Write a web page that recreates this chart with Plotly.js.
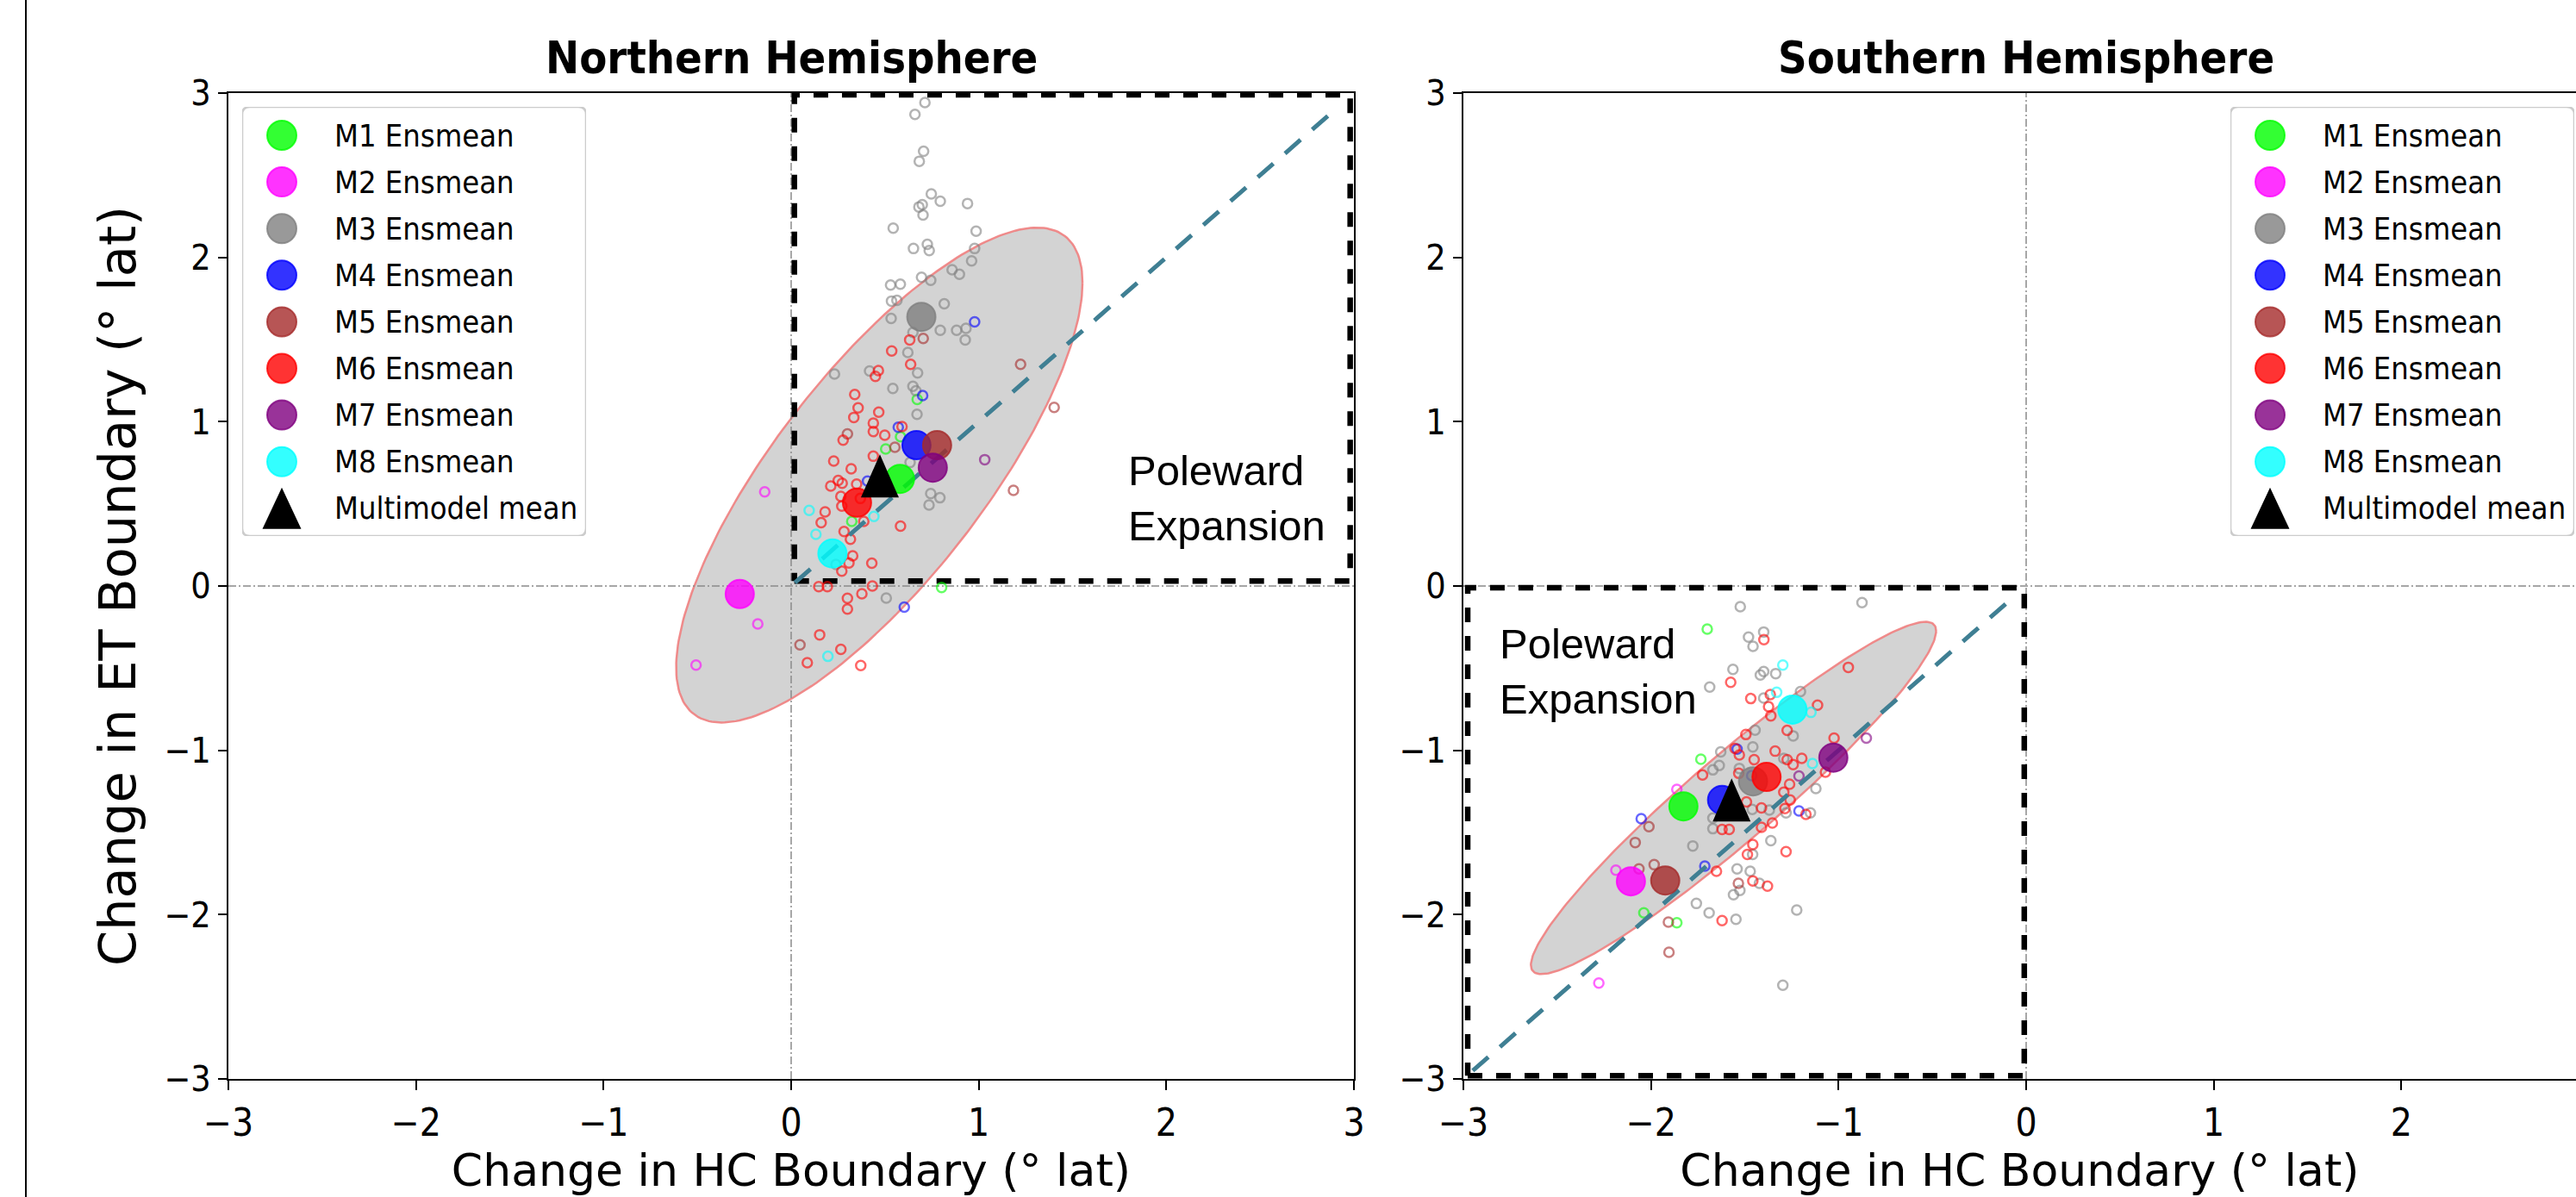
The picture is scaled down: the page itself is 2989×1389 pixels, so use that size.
<!DOCTYPE html>
<html><head><meta charset="utf-8">
<script src="https://cdn.plot.ly/plotly-3.0.1.min.js"></script>
<style>html,body{margin:0;padding:0;background:#fff;}#chart{width:2989px;height:1389px;}</style>
</head><body><div id="chart"></div>
<script>
// ================= DATA =================
const models = ['M1','M2','M3','M4','M5','M6','M7','M8'];
const modelColors = ['#00ff00','#ff00ff','#808080','#0000ff','#a52a2a','#ff0000','#800080','#00ffff'];
const legendLabels = ['M1 Ensmean','M2 Ensmean','M3 Ensmean','M4 Ensmean','M5 Ensmean','M6 Ensmean','M7 Ensmean','M8 Ensmean','Multimodel mean'];
const tickValues = [-3,-2,-1,0,1,2,3];
const tickLabels = ['\u22123','\u22122','\u22121','0','1','2','3'];
const panelTitles = ['Northern Hemisphere','Southern Hemisphere'];
const xTitle = 'Change in HC Boundary (\u00b0 lat)';
const yTitle = 'Change in ET Boundary (\u00b0 lat)';
const quadLabel = 'Poleward<br>Expansion';

// ensemble means (HC change, ET change)
const nhMeanX = [0.580,-0.274,0.694,0.668,0.778,0.351,0.755,0.220];
const nhMeanY = [0.652,-0.049,1.638,0.857,0.857,0.507,0.720,0.198];
const shMeanX = [-1.827,-2.107,-1.456,-1.621,-1.924,-1.384,-1.028,-1.246];
const shMeanY = [-1.341,-1.797,-1.189,-1.302,-1.792,-1.162,-1.045,-0.752];
const nhMultiMean = [0.473,0.670];
const shMultiMean = [-1.570,-1.302];

// ensemble members, Northern Hemisphere
const nhM1x = [0.672,0.583,0.504,0.802,0.323];
const nhM1y = [1.136,0.909,0.834,-0.009,0.393];
const nhM2x = [-0.141,-0.178,-0.507];
const nhM2y = [0.573,-0.231,-0.481];
const nhM3x = [0.713,0.660,0.706,0.683,0.747,0.795,0.681,0.699,0.703,0.940,0.544,0.986,0.652,0.726,0.736,0.978,0.962,0.858,0.897,0.695,0.744,0.530,0.582,0.535,0.564,0.816,0.533,0.795,0.882,0.932,0.928,0.649,0.622,0.231,0.418,0.674,0.542,0.649,0.665,0.671,0.634,0.744,0.793,0.735,0.507,0.239];
const nhM3y = [2.942,2.870,2.646,2.585,2.386,2.342,2.307,2.321,2.258,2.328,2.178,2.160,2.054,2.080,2.042,2.054,1.979,1.925,1.897,1.879,1.861,1.832,1.837,1.734,1.739,1.718,1.629,1.556,1.556,1.568,1.498,1.543,1.421,1.290,1.309,1.297,1.202,1.215,1.188,1.045,0.752,0.563,0.537,0.493,-0.073,0.131];
const nhM4x = [0.978,0.701,0.571,0.603,0.407];
const nhM4y = [1.608,1.159,0.966,-0.128,0.638];
const nhM5x = [0.704,1.223,1.402,0.300,0.553,1.185,0.047];
const nhM5y = [1.507,1.349,1.087,0.926,0.844,0.582,-0.358];
const nhM6x = [0.632,0.536,0.637,0.465,0.449,0.339,0.357,0.467,0.334,0.438,0.438,0.499,0.277,0.591,0.438,0.227,0.320,0.211,0.251,0.272,0.349,0.265,0.270,0.181,0.160,0.282,0.316,0.387,0.583,0.328,0.308,0.270,0.430,0.147,0.193,0.433,0.377,0.300,0.300,0.152,0.265,0.086,0.371,0.369];
const nhM6y = [1.498,1.430,1.349,1.311,1.276,1.166,1.084,1.058,1.026,0.991,0.940,0.918,0.888,0.970,0.790,0.760,0.713,0.608,0.643,0.625,0.620,0.545,0.486,0.451,0.385,0.332,0.285,0.393,0.364,0.184,0.140,0.091,0.139,-0.004,-0.004,0.000,-0.047,-0.075,-0.140,-0.297,-0.385,-0.467,-0.484,0.533];
const nhM7x = [1.032];
const nhM7y = [0.769];
const nhM8x = [0.096,0.132,0.441,0.196];
const nhM8y = [0.460,0.315,0.423,-0.428];

// ensemble members, Southern Hemisphere
const shM1x = [-1.700,-1.734,-2.038,-1.862];
const shM1y = [-0.262,-1.054,-1.989,-2.049];
const shM2x = [-1.862,-2.187,-2.278];
const shM2y = [-1.238,-1.730,-2.416];
const shM3x = [-1.524,-0.875,-1.480,-1.399,-1.456,-1.563,-1.687,-1.417,-1.399,-1.335,-1.203,-1.399,-1.445,-1.242,-1.457,-1.628,-1.636,-1.670,-1.292,-1.121,-1.150,-1.280,-1.369,-1.460,-1.670,-1.670,-1.361,-1.777,-1.458,-1.541,-1.471,-1.422,-1.526,-1.560,-1.758,-1.690,-1.547,-1.223,-1.297,-1.529];
const shM3y = [-0.126,-0.101,-0.311,-0.280,-0.367,-0.507,-0.615,-0.542,-0.521,-0.533,-0.643,-0.682,-0.877,-0.912,-0.979,-1.010,-1.092,-1.119,-1.049,-1.232,-1.381,-1.381,-1.363,-1.360,-1.412,-1.477,-1.550,-1.582,-1.634,-1.722,-1.736,-1.809,-1.853,-1.879,-1.932,-1.989,-2.028,-1.972,-2.430,-1.110];
const shM4x = [-1.541,-2.052,-1.463,-1.211,-1.713];
const shM4y = [-0.993,-1.416,-1.154,-1.369,-1.704];
const shM5x = [-2.011,-2.084,-2.064,-1.983,-1.534,-1.907,-1.904];
const shM5y = [-1.465,-1.561,-1.722,-1.696,-1.809,-2.045,-2.229];
const shM6x = [-1.398,-0.948,-1.575,-1.468,-1.373,-1.361,-1.112,-1.364,-1.274,-1.494,-1.024,-1.338,-1.552,-1.529,-1.450,-1.274,-1.242,-1.196,-1.725,-1.532,-1.070,-1.261,-1.292,-1.258,-1.491,-1.411,-1.286,-1.174,-1.353,-1.411,-1.621,-1.583,-1.457,-1.486,-1.280,-1.651,-1.457,-1.379,-1.621];
const shM6y = [-0.327,-0.495,-0.586,-0.685,-0.734,-0.790,-0.725,-0.661,-0.879,-0.904,-0.926,-1.005,-0.988,-1.028,-1.057,-1.057,-1.087,-1.049,-1.150,-1.140,-1.133,-1.206,-1.255,-1.302,-1.314,-1.351,-1.355,-1.390,-1.442,-1.468,-1.482,-1.482,-1.573,-1.634,-1.617,-1.736,-1.795,-1.827,-2.036];
const shM7x = [-0.852,-1.211];
const shM7y = [-0.926,-1.157];
const shM8x = [-1.297,-1.330,-1.147,-1.139];
const shM8y = [-0.481,-0.647,-0.769,-1.080];

// spread ellipses (centre, std-devs, correlation)
const nhEllipse = {cx:0.470, cy:0.675, sx:1.083, sy:1.506, r:0.777};
const shEllipse = {cx:-1.560, cy:-1.290, sx:1.080, sy:1.072, r:0.948};

// poleward-expansion quadrants and 1:1 reference lines
const nhQuad = {x0:0.017, x1:2.98, y0:0.03, y1:2.99};
const shQuad = {x0:-2.977, x1:-0.01, y0:-2.98, y1:-0.01};
const nhDiag = [0.02, 2.90];
const shDiag = [-2.95, -0.08];

// ================= LAYOUT GEOMETRY (px) =================
const FIG_W = 2989, FIG_H = 1389;
const PLOT_TOP = 108, PLOT_BOT = 1252;
const NH_L = 265, NH_R = 1571, SH_L = 1698;
const PXU_X = (NH_R - NH_L) / 6;
const PXU_Y = (PLOT_BOT - PLOT_TOP) / 6;
const SH_XMAX = -3 + (FIG_W - SH_L) / PXU_X;
const TRI_HW = 22, TRI_HH = 25;   // half width / height of mean triangle in px
const LEG_ROW0 = 157, LEG_DY = 54.1;
const LEG_L = {x0:281, x1:680, mark:327, text:386};
const LEG_R = {x0:2588, x1:2987, mark:2634, text:2693};
const LEG_Y0 = 124, LEG_Y1 = 622;

const FONT_C = 'DejaVu Sans Condensed, DejaVu Sans, sans-serif';
const FONT_R = 'DejaVu Sans, sans-serif';

function rgba(hex, a){
  const n = parseInt(hex.slice(1),16);
  return 'rgba(' + ((n>>16)&255) + ',' + ((n>>8)&255) + ',' + (n&255) + ',' + a + ')';
}
function ellipsePts(e){
  const xs=[], ys=[], q=Math.sqrt(1-e.r*e.r);
  for(let k=0;k<=240;k++){
    const t = 2*Math.PI*k/240;
    xs.push(e.cx + e.sx*Math.cos(t));
    ys.push(e.cy + e.sy*(e.r*Math.cos(t) + q*Math.sin(t)));
  }
  return {x:xs, y:ys};
}
function triPts(cx, cy, hw, hh){
  return {x:[cx-hw, cx+hw, cx, cx-hw], y:[cy-hh, cy-hh, cy+hh, cy-hh]};
}

const traces = [];
function addPanel(xa, ya, xmax, ell, quad, diag, mx, my, meanX, meanY, mm){
  const e = ellipsePts(ell);
  traces.push({type:'scatter', mode:'lines', x:e.x, y:e.y, xaxis:xa, yaxis:ya, fill:'toself',
    fillcolor:'#d3d3d3', line:{color:'rgba(240,128,128,0.9)', width:2.5}, hoverinfo:'skip'});
  const zl = {color:'#8a8a8a', width:1.5, dash:'9px,3px,2px,3px'};
  traces.push({type:'scatter', mode:'lines', x:[0,0], y:[-3,3], xaxis:xa, yaxis:ya, line:zl, hoverinfo:'skip'});
  traces.push({type:'scatter', mode:'lines', x:[-3,xmax], y:[0,0], xaxis:xa, yaxis:ya, line:zl, hoverinfo:'skip'});
  traces.push({type:'scatter', mode:'lines', x:[quad.x0,quad.x1,quad.x1,quad.x0,quad.x0],
    y:[quad.y0,quad.y0,quad.y1,quad.y1,quad.y0], xaxis:xa, yaxis:ya,
    line:{color:'#000', width:6.5, dash:'17px,16px'}, hoverinfo:'skip'});
  models.forEach((m,i)=>{
    traces.push({type:'scatter', mode:'markers', name:m+' members', x:mx[i], y:my[i], xaxis:xa, yaxis:ya,
      marker:{symbol:'circle-open', size:11, color:modelColors[i], opacity:0.6, line:{width:2.5}}});
  });
  traces.push({type:'scatter', mode:'lines', x:diag, y:diag, xaxis:xa, yaxis:ya,
    line:{color:'#3f7f93', width:5, dash:'24px,18px'}, hoverinfo:'skip'});
  models.forEach((m,i)=>{
    traces.push({type:'scatter', mode:'markers', name:legendLabels[i], x:[meanX[i]], y:[meanY[i]], xaxis:xa, yaxis:ya,
      marker:{symbol:'circle', size:33, color:rgba(modelColors[i],0.8), line:{color:rgba(modelColors[i],0.8), width:2}}});
  });
  const t = triPts(mm[0], mm[1], TRI_HW/PXU_X, TRI_HH/PXU_Y);
  traces.push({type:'scatter', mode:'lines', name:legendLabels[8], x:t.x, y:t.y, xaxis:xa, yaxis:ya,
    fill:'toself', fillcolor:'#000', line:{color:'#000', width:0}});
}

addPanel('x','y',3,nhEllipse,nhQuad,nhDiag,
  [nhM1x,nhM2x,nhM3x,nhM4x,nhM5x,nhM6x,nhM7x,nhM8x],[nhM1y,nhM2y,nhM3y,nhM4y,nhM5y,nhM6y,nhM7y,nhM8y],
  nhMeanX,nhMeanY,nhMultiMean);
addPanel('x2','y2',SH_XMAX,shEllipse,shQuad,shDiag,
  [shM1x,shM2x,shM3x,shM4x,shM5x,shM6x,shM7x,shM8x],[shM1y,shM2y,shM3y,shM4y,shM5y,shM6y,shM7y,shM8y],
  shMeanX,shMeanY,shMultiMean);

// custom legends (axes measured in px)
const annotations = [];
const shapes = [];
function roundRectPath(x0,y0,x1,y1,r){
  return 'M'+(x0+r)+','+y0+' L'+(x1-r)+','+y0+' Q'+x1+','+y0+' '+x1+','+(y0+r)+
    ' L'+x1+','+(y1-r)+' Q'+x1+','+y1+' '+(x1-r)+','+y1+' L'+(x0+r)+','+y1+
    ' Q'+x0+','+y1+' '+x0+','+(y1-r)+' L'+x0+','+(y0+r)+' Q'+x0+','+y0+' '+(x0+r)+','+y0+' Z';
}
function addLegend(xa, ya, L){
  shapes.push({type:'path', xref:xa, yref:ya, path:roundRectPath(L.x0,LEG_Y0,L.x1,LEG_Y1,9),
    fillcolor:'rgba(255,255,255,0.85)', line:{color:'#cccccc', width:2.5}, layer:'below'});
  models.forEach((m,i)=>{
    const yy = LEG_ROW0 + i*LEG_DY;
    traces.push({type:'scatter', mode:'markers', x:[L.mark], y:[yy], xaxis:xa, yaxis:ya, hoverinfo:'skip',
      marker:{symbol:'circle', size:34, color:rgba(modelColors[i],0.8), line:{color:rgba(modelColors[i],0.8), width:2}}});
    annotations.push({xref:xa, yref:ya, x:L.text, y:yy, text:legendLabels[i], showarrow:false,
      xanchor:'left', yanchor:'middle', font:{family:FONT_C, size:36, color:'#000'}});
  });
  const yy = LEG_ROW0 + 8*LEG_DY;
  const t = triPts(L.mark, yy, 22.5, -24);
  traces.push({type:'scatter', mode:'lines', x:t.x, y:t.y, xaxis:xa, yaxis:ya, fill:'toself',
    fillcolor:'#000', line:{color:'#000', width:0}, hoverinfo:'skip'});
  annotations.push({xref:xa, yref:ya, x:L.text, y:yy, text:legendLabels[8], showarrow:false,
    xanchor:'left', yanchor:'middle', font:{family:FONT_C, size:36, color:'#000'}});
}
addLegend('x3','y3',LEG_L);
addLegend('x4','y4',LEG_R);

// panel titles
annotations.push({xref:'x domain', yref:'paper', x:0.5, y:1-67/FIG_H, text:'<b>'+panelTitles[0]+'</b>', showarrow:false,
  xanchor:'center', yanchor:'middle', font:{family:FONT_C, size:52, color:'#000'}});
annotations.push({xref:'paper', yref:'paper', x:(SH_L + 3*PXU_X)/FIG_W, y:1-67/FIG_H, text:'<b>'+panelTitles[1]+'</b>', showarrow:false,
  xanchor:'center', yanchor:'middle', font:{family:FONT_C, size:52, color:'#000'}});
// quadrant labels
annotations.push({xref:'x', yref:'y', x:1.787, y:0.535, text:quadLabel, showarrow:false, align:'left',
  xanchor:'left', yanchor:'middle', font:{family:'Liberation Sans, Arial, sans-serif', size:49, color:'#000'}});
annotations.push({xref:'x2', yref:'y2', x:-2.817, y:-0.517, text:quadLabel, showarrow:false, align:'left',
  xanchor:'left', yanchor:'middle', font:{family:'Liberation Sans, Arial, sans-serif', size:49, color:'#000'}});

// far-left border line
shapes.push({type:'line', xref:'paper', yref:'paper', x0:30/FIG_W, x1:30/FIG_W, y0:0, y1:1, line:{color:'#000', width:2}});

const yDom = [1-PLOT_BOT/FIG_H, 1-PLOT_TOP/FIG_H];
const xTickFont = {family:FONT_C, size:44, color:'#000'};
const yTickFont = {family:FONT_C, size:41, color:'#000'};
function xAxis(dom, rng, anchor, vals, txt){
  return {domain:dom, range:rng, anchor:anchor, tickmode:'array', tickvals:vals, ticktext:txt,
    showgrid:false, zeroline:false, showline:true, linecolor:'#000', linewidth:2, mirror:true,
    ticks:'outside', ticklen:11, tickwidth:2, tickcolor:'#000', tickfont:xTickFont, automargin:false,
    title:{text:xTitle, font:{family:FONT_R, size:52, color:'#000'}, standoff:10}, fixedrange:true};
}
const layout = {
  width:FIG_W, height:FIG_H, margin:{l:0,r:0,t:0,b:0}, paper_bgcolor:'#ffffff', plot_bgcolor:'rgba(0,0,0,0)',
  showlegend:false, hovermode:false,
  xaxis: xAxis([NH_L/FIG_W, NH_R/FIG_W], [-3,3], 'y', tickValues, tickLabels),
  yaxis: {domain:yDom, range:[-3,3], anchor:'x', tickmode:'array', tickvals:tickValues, ticktext:tickLabels,
    showgrid:false, zeroline:false, showline:true, linecolor:'#000', linewidth:2, mirror:true,
    ticks:'outside', ticklen:10, tickwidth:2, tickcolor:'#000', tickfont:yTickFont, automargin:false,
    title:{text:yTitle, font:{family:FONT_R, size:59, color:'#000'}, standoff:14}, fixedrange:true},
  xaxis2: xAxis([SH_L/FIG_W, 1], [-3,SH_XMAX], 'y2', tickValues.slice(0,6), tickLabels.slice(0,6)),
  yaxis2: {domain:yDom, range:[-3,3], anchor:'x2', tickmode:'array', tickvals:tickValues, ticktext:tickLabels,
    showgrid:false, zeroline:false, showline:true, linecolor:'#000', linewidth:2, mirror:false,
    ticks:'outside', ticklen:10, tickwidth:2, tickcolor:'#000', tickfont:yTickFont, automargin:false, fixedrange:true},
  xaxis3: {domain:[LEG_L.x0/FIG_W, LEG_L.x1/FIG_W], range:[LEG_L.x0, LEG_L.x1], anchor:'y3', visible:false, fixedrange:true},
  yaxis3: {domain:[1-LEG_Y1/FIG_H, 1-LEG_Y0/FIG_H], range:[LEG_Y1, LEG_Y0], anchor:'x3', visible:false, fixedrange:true},
  xaxis4: {domain:[LEG_R.x0/FIG_W, LEG_R.x1/FIG_W], range:[LEG_R.x0, LEG_R.x1], anchor:'y4', visible:false, fixedrange:true},
  yaxis4: {domain:[1-LEG_Y1/FIG_H, 1-LEG_Y0/FIG_H], range:[LEG_Y1, LEG_Y0], anchor:'x4', visible:false, fixedrange:true},
  shapes: shapes,
  annotations: annotations
};
Plotly.newPlot('chart', traces, layout, {staticPlot:true, displayModeBar:false});
</script></body></html>
